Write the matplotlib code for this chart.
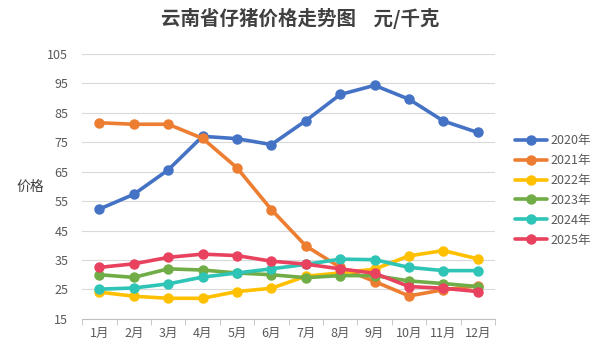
import matplotlib.pyplot as plt
from matplotlib.ticker import FixedLocator, NullFormatter

plt.rcParams['font.family'] = ['Noto Sans CJK SC', 'DejaVu Sans']

# Data
months = ['1月', '2月', '3月', '4月', '5月', '6月', '7月', '8月', '9月', '10月', '11月', '12月']
years = ['2020年', '2021年', '2022年', '2023年', '2024年', '2025年']
p2020 = [52.3, 57.3, 65.6, 77.0, 76.2, 74.2, 82.3, 91.2, 94.3, 89.6, 82.2, 78.3]
p2021 = [81.6, 81.1, 81.1, 76.3, 66.3, 52.1, 39.8, 32.5, 27.7, 22.8, 24.9, 26.2]
p2022 = [24.1, 22.7, 22.0, 22.0, 24.3, 25.4, 29.5, 30.6, 31.9, 36.4, 38.2, 35.4]
p2023 = [30.0, 29.1, 32.0, 31.6, 30.6, 30.0, 29.0, 29.7, 29.7, 27.9, 27.0, 26.0]
p2024 = [25.1, 25.5, 26.9, 29.2, 30.6, 32.0, 33.5, 35.3, 35.1, 32.5, 31.4, 31.4]
p2025 = [32.5, 33.7, 35.9, 37.0, 36.5, 34.6, 33.6, 32.0, 30.5, 26.0, 25.4, 24.3]
colors = ['#4472C4', '#ED7D31', '#FFC000', '#70AD47', '#2EC4B6', '#E8425F']

fig = plt.figure(figsize=(6, 3.52), dpi=100)
ax = fig.add_axes([0.137, 0.094, 0.688, 0.753])

x = list(range(len(months)))
for vals, name, c in zip([p2020, p2021, p2022, p2023, p2024, p2025], years, colors):
    ax.plot(x, vals, color=c, lw=2.6, marker='o', ms=6.5, label=name, solid_capstyle='round')

ax.set_xlim(-0.5, 11.5)
ax.set_ylim(15, 105)
ax.set_yticks(range(15, 106, 10))
ax.set_xticks(x)
ax.set_xticklabels(months)
ax.xaxis.set_minor_locator(FixedLocator([i - 0.5 for i in range(13)]))
ax.xaxis.set_minor_formatter(NullFormatter())
ax.tick_params(axis='x', which='major', length=0, pad=6, labelsize=9, colors='#595959')
ax.tick_params(axis='x', which='minor', length=4, color='#BFBFBF')
ax.tick_params(axis='y', length=0, pad=10, labelsize=9, colors='#595959')
ax.grid(axis='y', color='#D9D9D9', lw=0.8)
ax.set_axisbelow(True)
for s in ['top', 'right', 'left']:
    ax.spines[s].set_visible(False)
ax.spines['bottom'].set_color('#BFBFBF')

ax.set_ylabel('价格', rotation=0, fontsize=10, color='#404040', labelpad=12, va='center')

fig.text(0.5, 0.948, '云南省仔猪价格走势图    元/千克', ha='center', va='center',
         fontsize=14, fontweight='bold', color='#404040')

ax.legend(loc='center left', bbox_to_anchor=(1.022, 0.485), frameon=False, fontsize=9,
          labelcolor='#595959', handlelength=2.5, handletextpad=0.3, labelspacing=0.55)

fig.savefig('out.png', dpi=100)
